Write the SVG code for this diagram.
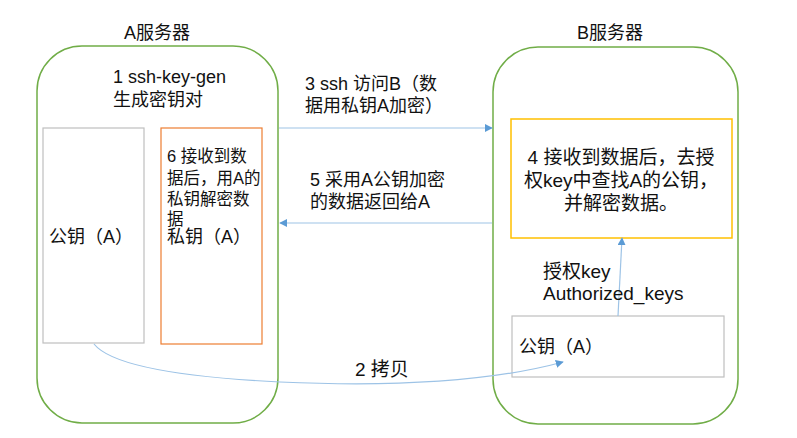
<svg xmlns="http://www.w3.org/2000/svg" width="797" height="438" viewBox="0 0 797 438">
<style>
text{font-family:"Liberation Sans","Noto Sans CJK SC",sans-serif;fill:#111;}
.t18{font-size:18px;}
.t19{font-size:19px;}
.t165{font-size:16.5px;}
.srv{fill:none;stroke:#70ad47;stroke-width:1.5;}
.con{fill:none;stroke:#9dc3e6;stroke-width:1.2;}
</style>
<defs>
<marker id="ah" viewBox="0 0 10 10" refX="9" refY="5" markerWidth="8" markerHeight="8" markerUnits="userSpaceOnUse" orient="auto">
<path d="M0,0 L10,5 L0,10 z" fill="#5b9bd5"/>
</marker>
</defs>
<rect width="797" height="438" fill="#fff"/>
<g id="serverA">
<rect class="srv" x="37" y="46" width="241" height="377" rx="45" ry="45"/>
<text class="t18" x="157" y="39" text-anchor="middle">A服务器</text>
<text class="t18" x="113" y="83">1 ssh-key-gen</text>
<text class="t18" x="113" y="106">生成密钥对</text>
</g>
<g id="pubA">
<rect x="43" y="128" width="101" height="215" fill="#fff" stroke="#bfbfbf" stroke-width="1.2"/>
<text class="t18" x="49" y="243">公钥（A）</text>
</g>
<g id="privA">
<rect x="161" y="128" width="101" height="216" fill="#fff" stroke="#ed7d31" stroke-width="1.2"/>
<text class="t165" x="167" y="162">6 接收到数</text>
<text class="t165" x="167" y="184">据后，用A的</text>
<text class="t165" x="167" y="205">私钥解密数</text>
<text class="t165" x="167" y="225">据</text>
<text class="t18" x="167" y="243">私钥（A）</text>
</g>
<g id="serverB">
<rect class="srv" x="493" y="47" width="245" height="377" rx="45" ry="45"/>
<text class="t18" x="610" y="39" text-anchor="middle">B服务器</text>
</g>
<g id="check">
<rect x="511" y="119" width="221" height="119" fill="#fff" stroke="#ffc000" stroke-width="1.5"/>
<text class="t19" x="621" y="164" text-anchor="middle">4 接收到数据后，去授</text>
<text class="t19" x="621" y="187" text-anchor="middle">权key中查找A的公钥，</text>
<text class="t19" x="621" y="210" text-anchor="middle">并解密数据。</text>
</g>
<g id="pubB">
<rect x="512" y="316" width="212" height="61" fill="#fff" stroke="#bfbfbf" stroke-width="1.2"/>
<text class="t18" x="519" y="353">公钥（A）</text>
</g>
<g id="connectors">
<line class="con" x1="279" y1="128" x2="492" y2="128" marker-end="url(#ah)"/>
<line class="con" x1="492" y1="223" x2="280" y2="223" marker-end="url(#ah)"/>
<line class="con" x1="618" y1="316" x2="622" y2="238" marker-end="url(#ah)"/>
<path class="con" d="M94,344 Q118,374 280,382 Q460,390 563,362" marker-end="url(#ah)"/>
<text class="t18" x="305" y="90">3 ssh 访问B（数</text>
<text class="t18" x="305" y="112">据用私钥A加密）</text>
<text class="t18" x="310" y="186">5 采用A公钥加密</text>
<text class="t18" x="310" y="208">的数据返回给A</text>
<text class="t19" x="543" y="278">授权key</text>
<text class="t19" x="543" y="300">Authorized_keys</text>
<text class="t19" x="355" y="376">2 拷贝</text>
</g>
</svg>
